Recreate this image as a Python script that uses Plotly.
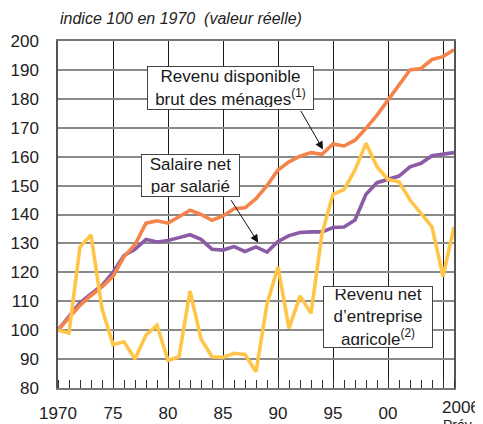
import plotly.graph_objects as go

years = list(range(1970, 2007))

revenu_disponible = [100, 104.5, 108.6, 112, 115, 118.6, 125.4, 129.6, 137, 137.8,
                     137, 139.2, 141.5, 140, 138, 139.5, 142, 142.3, 145.5, 150,
                     155.4, 158.2, 160.2, 161.4, 160.8, 164.4, 163.7, 165.7, 169.8, 174.4,
                     179.6, 184.8, 190, 190.5, 193.6, 194.6, 197]

salaire_net = [100, 105, 109.5, 112.5, 115.5, 120, 125.8, 128, 131.4, 130.5,
               131, 132, 133, 131.4, 128, 127.7, 128.9, 127.2, 128.8, 127,
               130.7, 132.7, 133.8, 134, 134, 135.5, 135.7, 138.1, 147, 151,
               152.3, 153.3, 156.5, 157.7, 160.3, 160.9, 161.4]

revenu_agricole = [100, 99, 128.8, 132.9, 107.5, 95, 96, 90, 98.3, 101.7,
                   89.5, 90.8, 113.6, 97, 90.8, 90.6, 92, 91.6, 85.6, 109,
                   121.9, 100.6, 111.8, 105.8, 133.4, 147, 148.6, 155.4, 164.6, 156.5,
                   152.1, 151.3, 145, 140.4, 135.7, 118.5, 135.7]

x_tickvals = [1970, 1975, 1980, 1985, 1990, 1995, 2000, 2005]
x_ticktext = ["1970", "75", "80", "85", "90", "95", "00", ""]
y_tickvals = list(range(80, 201, 10))

C_ORANGE = "#F5844B"
C_PURPLE = "#8C5BA6"
C_YELLOW = "#FFC548"
FONT = "Liberation Sans, Arial, sans-serif"

fig = go.Figure()
fig.add_trace(go.Scatter(x=years, y=salaire_net, mode="lines",
                         line=dict(color=C_PURPLE, width=3.6), name="Salaire net par salarié"))
fig.add_trace(go.Scatter(x=years, y=revenu_disponible, mode="lines",
                         line=dict(color=C_ORANGE, width=3.6), name="Revenu disponible brut des ménages"))
fig.add_trace(go.Scatter(x=years, y=revenu_agricole, mode="lines",
                         line=dict(color=C_YELLOW, width=3.6), name="Revenu net d'entreprise agricole"))

# page body has an 8px margin, so the figure is sized to fit the 483x424 window
fig.update_layout(
    width=475, height=416,
    margin=dict(l=50, r=29, t=33, b=36),
    paper_bgcolor="white", plot_bgcolor="white",
    showlegend=False,
    font=dict(family=FONT, size=17, color="#222222"),
)

fig.update_xaxes(
    range=[1970, 2006],
    tickvals=x_tickvals, ticktext=x_ticktext,
    showgrid=True, gridcolor="#1a1a1a", gridwidth=1,
    ticks="", ticklabelstandoff=9, automargin=False,
    minor=dict(dtick=1, tick0=1970, ticks="inside", ticklen=8, tickcolor="#333333", tickwidth=1, showgrid=False),
    showline=True, linecolor="#777777", linewidth=2, mirror=True,
    zeroline=False,
    tickfont=dict(size=17, family=FONT, color="#222222"),
)
fig.update_yaxes(
    range=[80, 200],
    tickvals=y_tickvals,
    showgrid=True, gridcolor="#8a8a8a", gridwidth=2,
    ticks="", ticklabelstandoff=14, automargin=False,
    showline=True, linecolor="#555555", linewidth=1.5, mirror=True,
    zeroline=False,
    tickfont=dict(size=17, family=FONT, color="#222222"),
)

annotations = [
    dict(text="<i>indice 100 en 1970  (valeur réelle)</i>", xref="paper", yref="paper",
         x=0, y=1, xanchor="left", yanchor="bottom", yshift=12, showarrow=False,
         font=dict(size=16, family=FONT, color="#222222")),
    dict(text="2006", xref="x", yref="paper", x=2006, y=0, xshift=7, yshift=-8,
         xanchor="center", yanchor="top", showarrow=False,
         font=dict(size=17, family=FONT, color="#222222")),
    dict(text="Prév", xref="x", yref="paper", x=2006, y=0, xshift=3, yshift=-27,
         xanchor="center", yanchor="top", showarrow=False,
         font=dict(size=14, family=FONT, color="#222222")),
    # boxes
    dict(text="Revenu disponible<br>brut des ménages<sup>(1)</sup>",
         x=1985.66, y=183.9, xref="x", yref="y", showarrow=False,
         bgcolor="white", bordercolor="#444444", borderwidth=1, borderpad=2,
         width=161, height=38, align="center",
         font=dict(size=17, family=FONT, color="#1a1a1a")),
    dict(text="Salaire net<br>par salarié",
         x=1982.07, y=153.4, xref="x", yref="y", showarrow=False,
         bgcolor="white", bordercolor="#444444", borderwidth=1, borderpad=2,
         width=93, height=37, align="center",
         font=dict(size=17, family=FONT, color="#1a1a1a")),
    dict(text="Revenu net<br>d’entreprise<br>agricole<sup>(2)</sup>",
         x=1999.06, y=104.5, xref="x", yref="y", showarrow=False,
         bgcolor="white", bordercolor="#444444", borderwidth=1, borderpad=2,
         width=104, height=56, align="center",
         font=dict(size=17, family=FONT, color="#1a1a1a")),
    # arrows
    dict(text="", x=1994.09, y=162.5, xref="x", yref="y", ax=-23, ay=-40,
         showarrow=True, arrowhead=2, arrowsize=1.6, arrowwidth=1, arrowcolor="#111111"),
    dict(text="", x=1988.2, y=130.25, xref="x", yref="y", ax=-28, ay=-44,
         showarrow=True, arrowhead=2, arrowsize=1.6, arrowwidth=1, arrowcolor="#111111"),
]
fig.update_layout(annotations=annotations)

fig.write_html("out.html")
